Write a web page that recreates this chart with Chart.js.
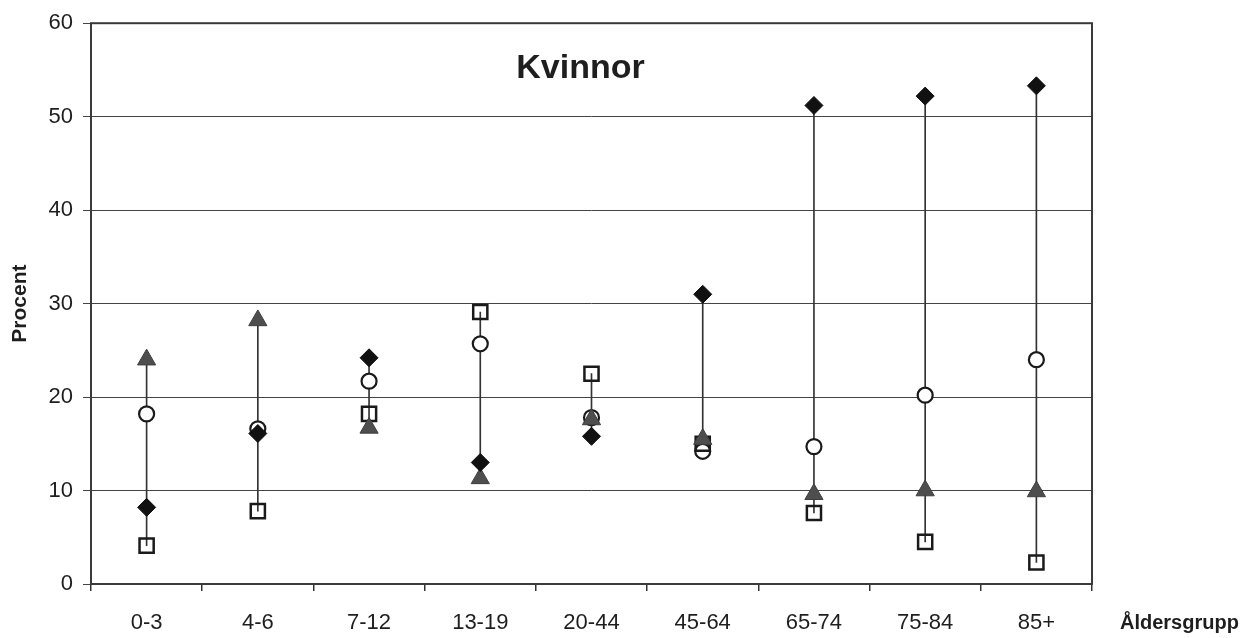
<!DOCTYPE html>
<html>
<head>
<meta charset="utf-8">
<script src="https://cdn.jsdelivr.net/npm/chart.js@4/dist/chart.umd.min.js"></script>
<style>
  html, body { margin: 0; padding: 0; background: #fff; }
  #wrap { width: 1243px; height: 638px; }
</style>
</head>
<body>
<div id="wrap"><canvas id="grafico"></canvas></div>
<script>
// Åldersgrupper och värden (procent)
const aldersgrupper = ['0-3', '4-6', '7-12', '13-19', '20-44', '45-64', '65-74', '75-84', '85+'];
const serieRuter    = [8.2, 16.1, 24.2, 13.0, 15.8, 31.0, 51.2, 52.2, 53.3];   // fylld romb
const serieCirklar  = [18.2, 16.6, 21.7, 25.7, 17.8, 14.2, 14.7, 20.2, 24.0];  // öppen cirkel
const serieKvadrat  = [4.1, 7.8, 18.2, 29.1, 22.5, 15.0, 7.6, 4.5, 2.3];       // öppen kvadrat
const serieTrianglar = [24.0, 28.2, 16.7, 11.3, 17.6, 15.5, 9.6, 10.0, 9.9];   // grå triangel
const yTicks = [0, 10, 20, 30, 40, 50, 60];

const fontFamily = '"Liberation Sans", Arial, Helvetica, sans-serif';

// Hög-låg linje: från minsta till största värde per grupp
const hogLag = aldersgrupper.map((_, i) => {
    const v = [serieRuter[i], serieCirklar[i], serieKvadrat[i], serieTrianglar[i]];
    return [Math.min(...v), Math.max(...v)];
});

// Ram runt diagrammet + texter
const ramOchText = {
    id: 'ramOchText',
    beforeDatasetsDraw(chart) {
        const { ctx, chartArea: a } = chart;
        ctx.save();
        ctx.strokeStyle = '#3a3a3a';
        ctx.lineWidth = 2;
        ctx.strokeRect(a.left, a.top, a.right - a.left, a.bottom - a.top);
        ctx.restore();
    },
    afterDraw(chart) {
        const { ctx, chartArea: a } = chart;
        ctx.save();
        ctx.fillStyle = '#1e1e1e';
        ctx.textAlign = 'center';
        ctx.textBaseline = 'middle';
        ctx.font = 'bold 34px ' + fontFamily;
        ctx.fillText('Kvinnor', a.left + (a.right - a.left) * 0.489, 69);
        ctx.font = 'bold 20px ' + fontFamily;
        ctx.textAlign = 'left';
        ctx.fillText('Åldersgrupp', a.right + 28, 623);
        ctx.restore();
    }
};

function punktSerie(label, data, stil, ordning) {
    return Object.assign({
        type: 'line',
        label: label,
        data: data,
        showLine: false,
        order: ordning
    }, stil);
}

function initGrafico() {
    const ctx = document.getElementById('grafico').getContext('2d');
    new Chart(ctx, {
        data: {
            labels: aldersgrupper,
            datasets: [
                {
                    type: 'bar',
                    label: 'Hög-låg',
                    data: hogLag,
                    backgroundColor: '#333',
                    barThickness: 1,
                    order: 10
                },
                punktSerie('Cirkel', serieCirklar, {
                    pointStyle: 'circle', pointRadius: 7.5, pointBorderWidth: 2.2,
                    pointBackgroundColor: '#fff', pointBorderColor: '#1a1a1a'
                }, 4),
                punktSerie('Kvadrat', serieKvadrat, {
                    pointStyle: 'rect', pointRadius: 10, pointBorderWidth: 2.5,
                    pointBackgroundColor: 'rgba(0,0,0,0)', pointBorderColor: '#1a1a1a'
                }, 3),
                punktSerie('Triangel', serieTrianglar, {
                    pointStyle: 'triangle', pointRadius: 10.5, pointBorderWidth: 1,
                    pointBackgroundColor: '#4e4e4e', pointBorderColor: '#3e3e3e'
                }, 2),
                punktSerie('Romb', serieRuter, {
                    pointStyle: 'rectRot', pointRadius: 9, pointBorderWidth: 1,
                    pointBackgroundColor: '#111', pointBorderColor: '#111'
                }, 1)
            ]
        },
        options: {
            responsive: true,
            maintainAspectRatio: false,
            animation: false,
            layout: { padding: { left: 0, right: 151, top: 21, bottom: 0 } },
            plugins: {
                legend: { display: false },
                tooltip: { enabled: false }
            },
            scales: {
                x: {
                    type: 'category',
                    offset: true,
                    afterFit: (s) => { s.height = 54; },
                    border: { display: false },
                    grid: {
                        offset: true,
                        drawOnChartArea: false,
                        drawTicks: true,
                        tickLength: 7,
                        color: '#333',
                        lineWidth: 1.5
                    },
                    ticks: {
                        color: '#1e1e1e',
                        padding: 19,
                        maxRotation: 0,
                        font: { family: fontFamily, size: 22 }
                    }
                },
                y: {
                    min: 0,
                    max: 60,
                    afterFit: (s) => { s.width = 91; },
                    afterBuildTicks: (s) => { s.ticks = yTicks.map(v => ({ value: v })); },
                    border: { display: false },
                    grid: {
                        color: '#444',
                        lineWidth: 1,
                        drawTicks: true,
                        tickLength: 8
                    },
                    ticks: {
                        color: '#1e1e1e',
                        padding: 10,
                        font: { family: fontFamily, size: 22 }
                    },
                    title: {
                        display: true,
                        text: 'Procent',
                        color: '#1e1e1e',
                        padding: { top: 8, bottom: 0 },
                        font: { family: fontFamily, size: 21, weight: 'bold' }
                    }
                }
            }
        },
        plugins: [ramOchText]
    });
}

initGrafico();
</script>
</body>
</html>
